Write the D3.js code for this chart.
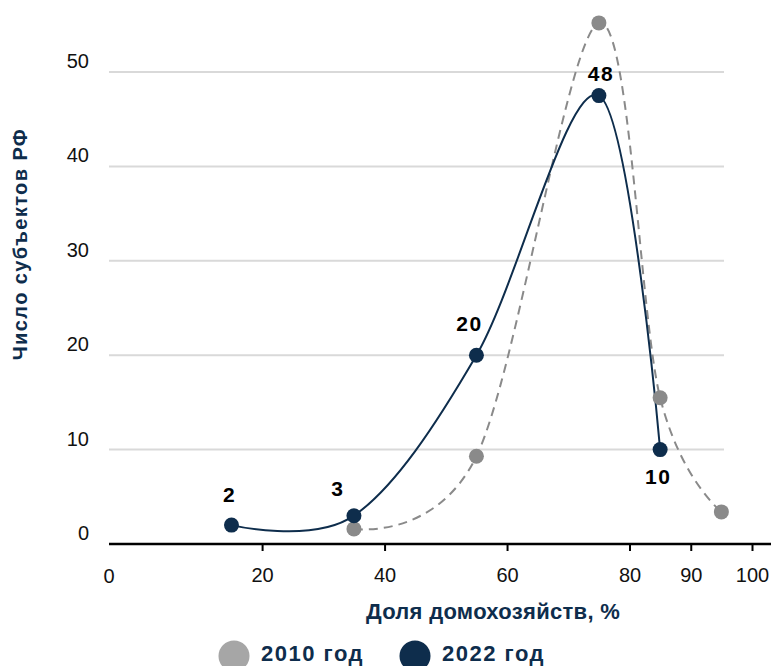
<!DOCTYPE html>
<html><head><meta charset="utf-8">
<script src="https://cdn.jsdelivr.net/npm/d3@7"></script>
<style>
html,body{margin:0;padding:0;background:#fff;}
svg{display:block;font-family:"Liberation Sans",Arial,sans-serif;}
</style></head>
<body><svg id="chart" width="771" height="666"></svg>
<script>
// ---- data ----
const xShares2022 = [15, 35, 55, 75, 85];
const values2022 = [2, 3, 20, 47.5, 10];
const labels2022 = ["2", "3", "20", "48", "10"];
const xShares2010 = [35, 55, 75, 85, 95];
const values2010 = [1.6, 9.3, 55.2, 15.5, 3.4];
const xTickValues = [20, 40, 60, 80, 90, 100];
const xOriginLabel = "0";
const yTickValues = [0, 10, 20, 30, 40, 50];
const seriesNames = ["2010 год", "2022 год"];
const xTitle = "Доля домохозяйств, %";
const yTitle = "Число субъектов  РФ";

// ---- layout / style ----
const NAVY = "#0e2d4c", GREY = "#8a8a8a", LEGEND_GREY = "#a6a6a6";
const svg = d3.select("#chart");
const x = d3.scaleLinear().domain([-5, 100]).range([109, 752]);
const y = d3.scaleLinear().domain([0, 50]).range([544, 72]);
const gridRight = 724;

// gridlines
svg.append("g").selectAll("line").data(yTickValues.filter(d => d > 0)).join("line")
  .attr("x1", x(-5)).attr("x2", gridRight)
  .attr("y1", d => y(d)).attr("y2", d => y(d))
  .attr("stroke", "#d9d9d9").attr("stroke-width", 2);

// y tick labels
svg.append("g").selectAll("text").data(yTickValues).join("text")
  .attr("x", 89).attr("y", d => y(d) - 4)
  .attr("text-anchor", "end").attr("font-size", 20).attr("fill", "#111")
  .text(d => d);

// x axis
const xAxis = d3.axisBottom(x).tickValues(xTickValues).tickSize(7).tickSizeOuter(0).tickPadding(17);
const gx = svg.append("g").attr("transform", `translate(0,${y(0)})`).call(xAxis);
gx.select(".domain").attr("stroke", "#000").attr("stroke-width", 2.5)
  .attr("d", `M${x(-5)},0H771`);
gx.selectAll(".tick line").attr("stroke", "#000").attr("stroke-width", 2);
gx.selectAll(".tick text").attr("font-size", 20).attr("fill", "#111").attr("font-family", null);
gx.append("text").attr("x", x(-5)).attr("y", 39).attr("text-anchor", "middle")
  .attr("font-size", 20).attr("fill", "#111").text(xOriginLabel);

// curves
const line = d3.line().x(d => x(d[0])).y(d => y(d[1])).curve(d3.curveCardinal.tension(0));
const d2010 = xShares2010.map((v, i) => [v, values2010[i]]);
const d2022 = xShares2022.map((v, i) => [v, values2022[i]]);

svg.append("path").attr("d", line(d2010)).attr("fill", "none")
  .attr("stroke", GREY).attr("stroke-width", 2).attr("stroke-dasharray", "9,6");
svg.append("path").attr("d", line(d2022)).attr("fill", "none")
  .attr("stroke", NAVY).attr("stroke-width", 2);

svg.append("g").selectAll("circle").data(d2010).join("circle")
  .attr("cx", d => x(d[0])).attr("cy", d => y(d[1])).attr("r", 7.5).attr("fill", GREY);
svg.append("g").selectAll("circle").data(d2022).join("circle")
  .attr("cx", d => x(d[0])).attr("cy", d => y(d[1])).attr("r", 7.5).attr("fill", NAVY);

// data labels (2022)
const labelDx = [-2, -16, -7, 2, -2];
const labelDy = [-23, -20, -24, -15, 34];
svg.append("g").selectAll("text").data(d2022).join("text")
  .attr("x", (d, i) => x(d[0]) + labelDx[i])
  .attr("y", (d, i) => y(d[1]) + labelDy[i])
  .attr("text-anchor", "middle").attr("font-size", 21).attr("font-weight", "bold")
  .attr("letter-spacing", 1.5).attr("fill", "#000")
  .text((d, i) => labels2022[i]);

// axis titles
svg.append("text").attr("x", 493).attr("y", 619).attr("text-anchor", "middle")
  .attr("font-size", 22).attr("font-weight", "bold").attr("letter-spacing", 0.3)
  .attr("fill", NAVY).text(xTitle);
svg.append("text").attr("transform", "translate(27,244) rotate(-90)")
  .attr("text-anchor", "middle").attr("font-size", 20).attr("font-weight", "bold")
  .attr("letter-spacing", 1.4).attr("fill", NAVY).text(yTitle);

// legend
const legendColors = [LEGEND_GREY, NAVY];
const legendX = [234, 415];
const lg = svg.append("g").selectAll("g").data(seriesNames).join("g")
  .attr("transform", (d, i) => `translate(${legendX[i]},656)`);
lg.append("circle").attr("r", 15.5).attr("fill", (d, i) => legendColors[i]);
lg.append("text").attr("x", 27).attr("y", 5).attr("font-size", 22).attr("font-weight", "bold")
  .attr("letter-spacing", 1.5).attr("fill", NAVY).text(d => d);
</script></body></html>
